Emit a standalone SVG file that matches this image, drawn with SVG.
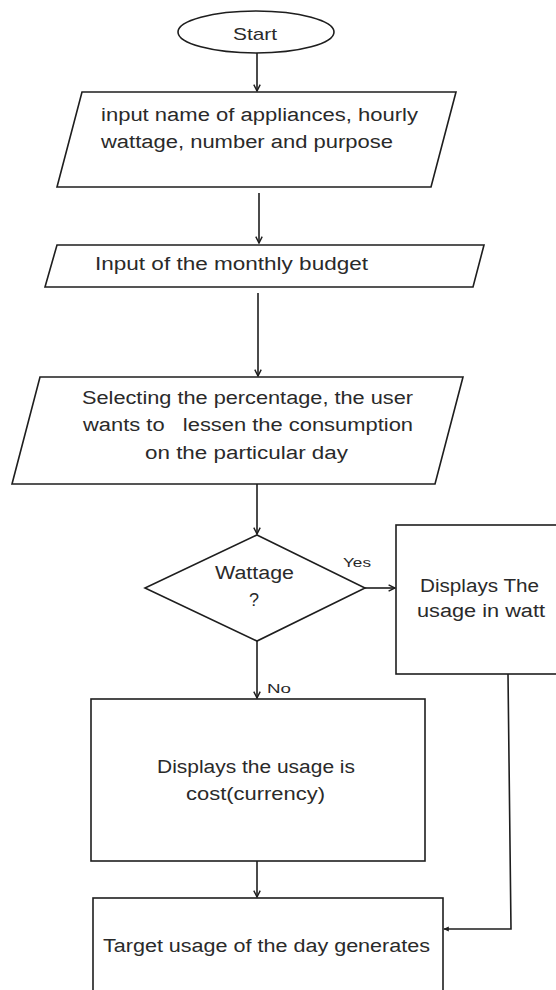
<svg xmlns="http://www.w3.org/2000/svg" width="556" height="990" viewBox="0 0 556 990">
  <style>
    .shape { fill: #ffffff; stroke: #1e1e1e; stroke-width: 1.6; }
    .edge { fill: none; stroke: #1e1e1e; stroke-width: 1.6; }
    .lbl { font-family: "Liberation Sans", Arial, sans-serif; font-size: 18px; fill: #2a2a2a; white-space: pre; }
    .small { font-family: "Liberation Sans", Arial, sans-serif; font-size: 13px; fill: #2a2a2a; }
  </style>
  <defs>
    <marker id="arrow" viewBox="0 0 10 10" refX="9" refY="5" markerWidth="8" markerHeight="8" markerUnits="userSpaceOnUse" orient="auto">
      <path d="M1,1 L9,5 L1,9" fill="none" stroke="#1e1e1e" stroke-width="1.8"/>
    </marker>
    <marker id="dot" viewBox="0 0 10 10" refX="8" refY="5" markerWidth="6" markerHeight="6" markerUnits="userSpaceOnUse" orient="auto">
      <path d="M0,1 L9,5 L0,9 Z" fill="#1e1e1e"/>
    </marker>
  </defs>

  <rect width="556" height="990" fill="#ffffff"/>

  <!-- connectors -->
  <g id="connectors">
    <line class="edge" x1="257" y1="53" x2="257" y2="91" marker-end="url(#arrow)"/>
    <line class="edge" x1="259" y1="193" x2="259" y2="243" marker-end="url(#arrow)"/>
    <line class="edge" x1="258" y1="293" x2="258" y2="376" marker-end="url(#arrow)"/>
    <line class="edge" x1="257" y1="484" x2="257" y2="534" marker-end="url(#arrow)"/>
    <line class="edge" x1="365" y1="588" x2="395" y2="588" marker-end="url(#arrow)"/>
    <line class="edge" x1="257" y1="641" x2="257" y2="698" marker-end="url(#arrow)"/>
    <line class="edge" x1="257" y1="861" x2="257" y2="897" marker-end="url(#arrow)"/>
    <polyline class="edge" points="508,674 511,929 444,929" marker-end="url(#dot)"/>
    <text class="small" x="343" y="567" textLength="28" lengthAdjust="spacingAndGlyphs">Yes</text>
    <text class="small" x="267" y="693" textLength="24" lengthAdjust="spacingAndGlyphs">No</text>
  </g>

  <!-- start terminal -->
  <g id="start">
    <ellipse class="shape" cx="256" cy="32" rx="78" ry="21"/>
    <text class="lbl" x="233" y="40" textLength="44" lengthAdjust="spacingAndGlyphs" style="font-size:17px">Start</text>
  </g>

  <!-- input: appliances -->
  <g id="input-appliances">
    <polygon class="shape" points="82,92 456,92 431,187 57,187"/>
    <text class="lbl" x="101" y="121" textLength="317" lengthAdjust="spacingAndGlyphs">input name of appliances, hourly</text>
    <text class="lbl" x="101" y="148" textLength="292" lengthAdjust="spacingAndGlyphs">wattage, number and purpose</text>
  </g>

  <!-- input: budget -->
  <g id="input-budget">
    <polygon class="shape" points="57,245 484,245 473,287 45,287"/>
    <text class="lbl" x="95" y="270" textLength="273" lengthAdjust="spacingAndGlyphs">Input of the monthly budget</text>
  </g>

  <!-- input: percentage -->
  <g id="input-percentage">
    <polygon class="shape" points="40,377 463,377 435,484 12,484"/>
    <text class="lbl" x="82" y="404" textLength="331" lengthAdjust="spacingAndGlyphs">Selecting the percentage, the user</text>
    <text class="lbl" x="83" y="431" textLength="330" lengthAdjust="spacingAndGlyphs">wants to   lessen the consumption</text>
    <text class="lbl" x="145" y="459" textLength="203" lengthAdjust="spacingAndGlyphs">on the particular day</text>
  </g>

  <!-- decision -->
  <g id="decision-wattage">
    <polygon class="shape" points="257,535 365,588 257,641 145,588"/>
    <text class="lbl" x="215" y="579" textLength="79" lengthAdjust="spacingAndGlyphs">Wattage</text>
    <text class="lbl" x="254" y="606" text-anchor="middle">?</text>
  </g>

  <!-- display watt -->
  <g id="display-watt">
    <rect class="shape" x="396" y="525" width="164" height="149"/>
    <text class="lbl" x="420" y="592" textLength="119" lengthAdjust="spacingAndGlyphs">Displays The</text>
    <text class="lbl" x="417" y="617" textLength="128" lengthAdjust="spacingAndGlyphs">usage in watt</text>
  </g>

  <!-- display cost -->
  <g id="display-cost">
    <rect class="shape" x="91" y="699" width="334" height="162"/>
    <text class="lbl" x="157" y="773" textLength="198" lengthAdjust="spacingAndGlyphs">Displays the usage is</text>
    <text class="lbl" x="186" y="800" textLength="139" lengthAdjust="spacingAndGlyphs">cost(currency)</text>
  </g>

  <!-- target output -->
  <g id="target-usage">
    <rect class="shape" x="93" y="898" width="350" height="96"/>
    <text class="lbl" x="103" y="952" textLength="327" lengthAdjust="spacingAndGlyphs">Target usage of the day generates</text>
  </g>
</svg>
